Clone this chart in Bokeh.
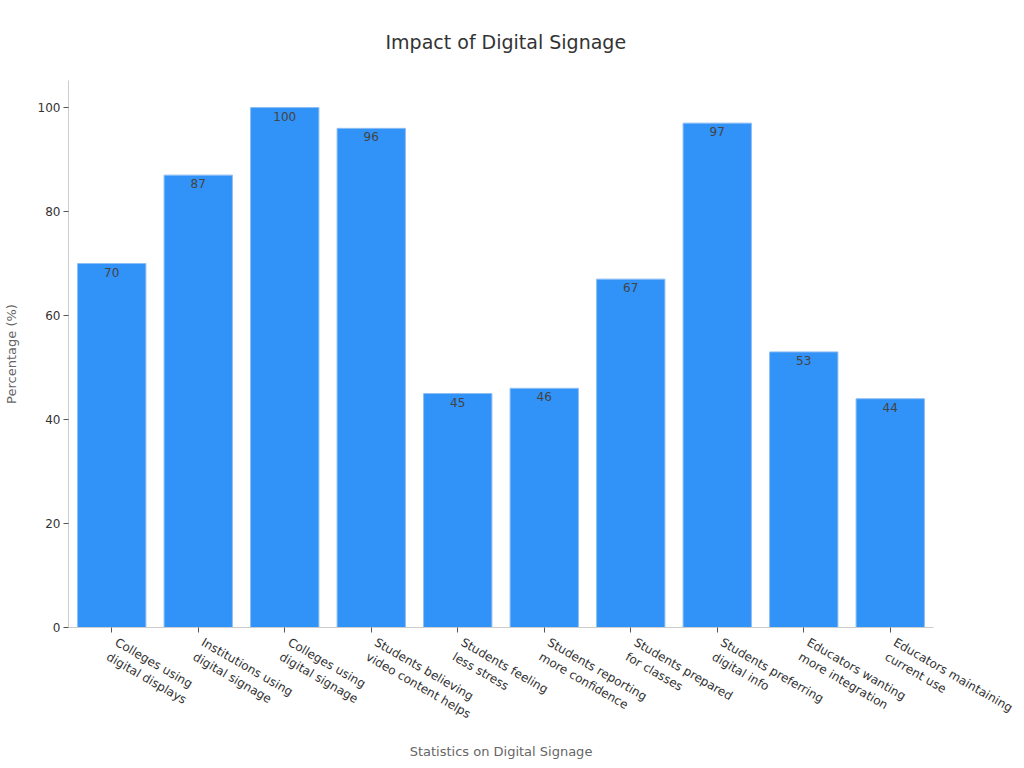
import math
from bokeh.plotting import figure
from bokeh.models import ColumnDataSource, Range1d, FactorRange, FixedTicker
from bokeh.core.properties import value
from bokeh.embed import file_html
from bokeh.resources import INLINE

categories = [
    "Colleges using\ndigital displays",
    "Institutions using\ndigital signage",
    "Colleges using\ndigital signage",
    "Students believing\nvideo content helps",
    "Students feeling\nless stress",
    "Students reporting\nmore confidence",
    "Students prepared\nfor classes",
    "Students preferring\ndigital info",
    "Educators wanting\nmore integration",
    "Educators maintaining\ncurrent use",
]
values = [70, 87, 100, 96, 45, 46, 67, 97, 53, 44]
y_ticks = [0, 20, 40, 60, 80, 100]
title_text = "Impact of Digital Signage"
x_label = "Statistics on Digital Signage"
y_label = "Percentage (%)"

FONT = "DejaVu Sans"
W, H = 1016, 768

src = ColumnDataSource(dict(cat=categories, val=values, lbl=[str(v) for v in values]))

p = figure(
    width=W, height=H,
    x_range=FactorRange(factors=categories, range_padding=0),
    y_range=Range1d(0, 105.2),
    output_backend="svg", toolbar_location=None,
    title=title_text,
    min_border_left=68, min_border_right=83, min_border_top=80, min_border_bottom=141,
)
p.outline_line_color = None
p.background_fill_color = "white"
p.border_fill_color = "white"

p.title.align = "left"
p.title.offset = 317
p.title.vertical_align = "top"
p.title.standoff = 52
p.title.text_font = FONT
p.title.text_font_size = "19px"
p.title.text_font_style = "normal"
p.title.text_color = "#333333"

p.vbar(x="cat", top="val", width=0.79, source=src,
       fill_color="#3192F7", line_color="#8DBDF3", line_width=1)

p.text(x="cat", y="val", text="lbl", source=src,
       text_align="center", text_baseline="top", y_offset=4,
       text_font=value(FONT), text_font_size="12px", text_color="#444444")

p.xgrid.visible = False
p.ygrid.visible = False

for ax in (p.xaxis[0], p.yaxis[0]):
    ax.axis_line_color = "#cccccc"
    ax.major_tick_line_color = "#555555"
    ax.major_tick_out = 5
    ax.major_tick_in = 0
    ax.minor_tick_line_color = None
    ax.major_label_text_font = FONT
    ax.major_label_text_font_size = "12px"
    ax.major_label_text_color = "#333333"
    ax.axis_label_text_font = FONT
    ax.axis_label_text_font_size = "13px"
    ax.axis_label_text_font_style = "normal"
    ax.axis_label_text_color = "#666666"

p.yaxis.ticker = FixedTicker(ticks=y_ticks)
p.yaxis.axis_label = y_label
p.yaxis.major_label_standoff = 3
p.yaxis.axis_label_standoff = 16

p.xaxis.axis_label = x_label
p.xaxis.major_label_orientation = -math.pi / 6
p.xaxis.major_label_standoff = 16
p.xaxis.axis_label_standoff = -2

open("out.html", "w").write(file_html(p, INLINE))
